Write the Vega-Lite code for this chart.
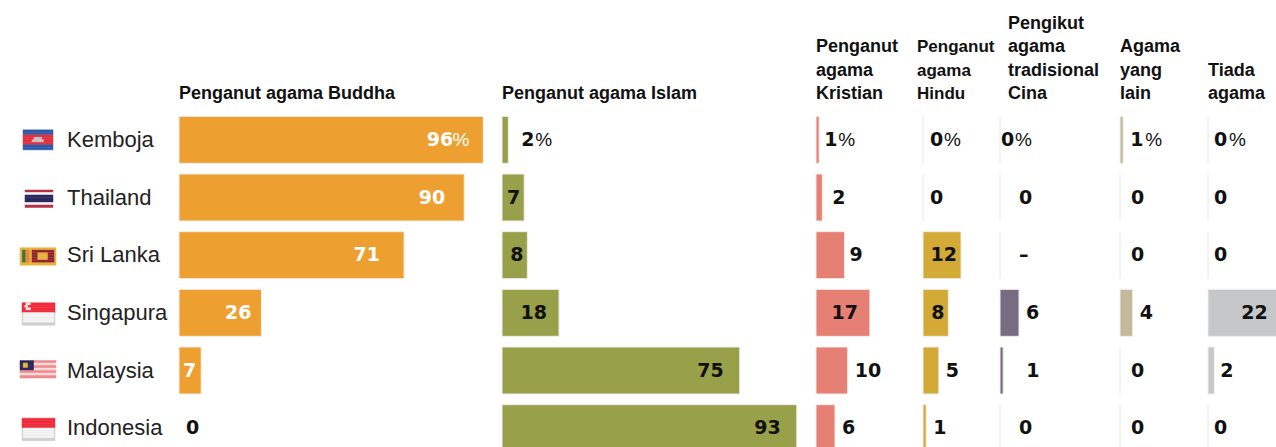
{"$schema":"https://vega.github.io/schema/vega-lite/v6.json","padding":{"left":0,"top":14,"right":0,"bottom":0},"background":"white","spacing":0,"bounds":"flush",
"config":{"view":{"stroke":null},"text":{"font":"DejaVu Sans","fontSize":19,"fontWeight":"bold","baseline":"middle","fill":"#111"},"title":{"font":"Liberation Sans","fontSize":18,"fontWeight":"bold","anchor":"start","frame":"group","lineHeight":23.5,"offset":8,"color":"#111"},"bar":{"stroke":"#f0eeeb","strokeWidth":1,"clip":true}},
"data":{"values":[
{"negara":"Kemboja","agama":"Buddha","nilai":96,"teks":"96","tempat":"a"},
{"negara":"Thailand","agama":"Buddha","nilai":90,"teks":"90","tempat":"b"},
{"negara":"Sri Lanka","agama":"Buddha","nilai":71,"teks":"71","tempat":"c"},
{"negara":"Singapura","agama":"Buddha","nilai":26,"teks":"26","tempat":"d"},
{"negara":"Malaysia","agama":"Buddha","nilai":7,"teks":"7","tempat":"e"},
{"negara":"Indonesia","agama":"Buddha","nilai":0,"teks":"0","tempat":"f"},
{"negara":"Kemboja","agama":"Islam","nilai":2,"teks":"2","tempat":"a"},
{"negara":"Thailand","agama":"Islam","nilai":7,"teks":"7","tempat":"b"},
{"negara":"Sri Lanka","agama":"Islam","nilai":8,"teks":"8","tempat":"b"},
{"negara":"Singapura","agama":"Islam","nilai":18,"teks":"18","tempat":"c"},
{"negara":"Malaysia","agama":"Islam","nilai":75,"teks":"75","tempat":"d"},
{"negara":"Indonesia","agama":"Islam","nilai":93,"teks":"93","tempat":"d"},
{"negara":"Kemboja","agama":"Kristian","nilai":1,"teks":"1","tempat":"a"},
{"negara":"Thailand","agama":"Kristian","nilai":2,"teks":"2","tempat":"b"},
{"negara":"Sri Lanka","agama":"Kristian","nilai":9,"teks":"9","tempat":"a"},
{"negara":"Singapura","agama":"Kristian","nilai":17,"teks":"17","tempat":"d"},
{"negara":"Malaysia","agama":"Kristian","nilai":10,"teks":"10","tempat":"c"},
{"negara":"Indonesia","agama":"Kristian","nilai":6,"teks":"6","tempat":"c"},
{"negara":"Kemboja","agama":"Hindu","nilai":0,"teks":"0","tempat":"a"},
{"negara":"Thailand","agama":"Hindu","nilai":0,"teks":"0","tempat":"a"},
{"negara":"Sri Lanka","agama":"Hindu","nilai":12,"teks":"12","tempat":"b"},
{"negara":"Singapura","agama":"Hindu","nilai":8,"teks":"8","tempat":"b"},
{"negara":"Malaysia","agama":"Hindu","nilai":5,"teks":"5","tempat":"a"},
{"negara":"Indonesia","agama":"Hindu","nilai":1,"teks":"1","tempat":"a"},
{"negara":"Kemboja","agama":"Cina","nilai":0,"teks":"0","tempat":"a"},
{"negara":"Thailand","agama":"Cina","nilai":0,"teks":"0","tempat":"b"},
{"negara":"Sri Lanka","agama":"Cina","nilai":0,"teks":"–","tempat":"b"},
{"negara":"Singapura","agama":"Cina","nilai":6,"teks":"6","tempat":"c"},
{"negara":"Malaysia","agama":"Cina","nilai":1,"teks":"1","tempat":"d"},
{"negara":"Indonesia","agama":"Cina","nilai":0,"teks":"0","tempat":"b"},
{"negara":"Kemboja","agama":"Lain","nilai":1,"teks":"1","tempat":"a"},
{"negara":"Thailand","agama":"Lain","nilai":0,"teks":"0","tempat":"b"},
{"negara":"Sri Lanka","agama":"Lain","nilai":0,"teks":"0","tempat":"b"},
{"negara":"Singapura","agama":"Lain","nilai":4,"teks":"4","tempat":"a"},
{"negara":"Malaysia","agama":"Lain","nilai":0,"teks":"0","tempat":"b"},
{"negara":"Indonesia","agama":"Lain","nilai":0,"teks":"0","tempat":"b"},
{"negara":"Kemboja","agama":"Tiada","nilai":0,"teks":"0","tempat":"a"},
{"negara":"Thailand","agama":"Tiada","nilai":0,"teks":"0","tempat":"a"},
{"negara":"Sri Lanka","agama":"Tiada","nilai":0,"teks":"0","tempat":"a"},
{"negara":"Singapura","agama":"Tiada","nilai":22,"teks":"22","tempat":"b"},
{"negara":"Malaysia","agama":"Tiada","nilai":2,"teks":"2","tempat":"a"},
{"negara":"Indonesia","agama":"Tiada","nilai":0,"teks":"0","tempat":"a"}
]},
"datasets":{"bendera":[
{"n":"Kemboja","b":1,"d":0.75,"h":8.25,"w":"biru"},{"n":"Kemboja","b":2,"d":0.75,"h":8.25,"w":"biru"},
{"n":"Kemboja","b":3,"d":0.75,"h":8.25,"w":"merah"},{"n":"Kemboja","b":4,"d":0.75,"h":3.5,"w":"merah"},{"n":"Kemboja","b":4,"d":3.5,"h":5.5,"w":"kelabu"},{"n":"Kemboja","b":4,"d":5.5,"h":8.25,"w":"merah"},{"n":"Kemboja","b":5,"d":0.75,"h":3,"w":"merah"},{"n":"Kemboja","b":5,"d":3,"h":6,"w":"kelabu"},{"n":"Kemboja","b":5,"d":6,"h":8.25,"w":"merah"},{"n":"Kemboja","b":6,"d":0.75,"h":8.25,"w":"merah"},
{"n":"Kemboja","b":7,"d":0.75,"h":8.25,"w":"biru"},{"n":"Kemboja","b":8,"d":0.75,"h":8.25,"w":"biru"},
{"n":"Thailand","b":2,"d":1.25,"h":8.25,"w":"merahtua"},{"n":"Thailand","b":3,"d":1.25,"h":8.25,"w":"putih"},{"n":"Thailand","b":4,"d":1.25,"h":8.25,"w":"nila"},{"n":"Thailand","b":5,"d":1.25,"h":8.25,"w":"nila"},{"n":"Thailand","b":6,"d":1.25,"h":8.25,"w":"nila"},{"n":"Thailand","b":7,"d":1.25,"h":8.25,"w":"putih"},{"n":"Thailand","b":8,"d":1.25,"h":8.25,"w":"merahtua"},
{"n":"Sri Lanka","b":2,"d":0,"h":9,"w":"emas"},
{"n":"Sri Lanka","b":3,"d":0,"h":9,"w":"emas"},{"n":"Sri Lanka","b":3,"d":0.6,"h":1.4,"w":"hijau"},{"n":"Sri Lanka","b":3,"d":1.4,"h":2.3,"w":"jingga"},{"n":"Sri Lanka","b":3,"d":3,"h":8.5,"w":"marun"},
{"n":"Sri Lanka","b":4,"d":0,"h":9,"w":"emas"},{"n":"Sri Lanka","b":4,"d":0.6,"h":1.4,"w":"hijau"},{"n":"Sri Lanka","b":4,"d":1.4,"h":2.3,"w":"jingga"},{"n":"Sri Lanka","b":4,"d":3,"h":4.3,"w":"marun"},{"n":"Sri Lanka","b":4,"d":7,"h":8.5,"w":"marun"},
{"n":"Sri Lanka","b":5,"d":0,"h":9,"w":"emas"},{"n":"Sri Lanka","b":5,"d":0.6,"h":1.4,"w":"hijau"},{"n":"Sri Lanka","b":5,"d":1.4,"h":2.3,"w":"jingga"},{"n":"Sri Lanka","b":5,"d":3,"h":4.3,"w":"marun"},{"n":"Sri Lanka","b":5,"d":7,"h":8.5,"w":"marun"},
{"n":"Sri Lanka","b":6,"d":0,"h":9,"w":"emas"},{"n":"Sri Lanka","b":6,"d":0.6,"h":1.4,"w":"hijau"},{"n":"Sri Lanka","b":6,"d":1.4,"h":2.3,"w":"jingga"},{"n":"Sri Lanka","b":6,"d":3,"h":4.3,"w":"marun"},{"n":"Sri Lanka","b":6,"d":7,"h":8.5,"w":"marun"},
{"n":"Sri Lanka","b":7,"d":0,"h":9,"w":"emas"},{"n":"Sri Lanka","b":7,"d":0.6,"h":1.4,"w":"hijau"},{"n":"Sri Lanka","b":7,"d":1.4,"h":2.3,"w":"jingga"},{"n":"Sri Lanka","b":7,"d":3,"h":8.5,"w":"marun"},
{"n":"Sri Lanka","b":8,"d":0,"h":9,"w":"emas"},
{"n":"Singapura","b":1,"d":0.5,"h":8.75,"w":"merah2"},{"n":"Singapura","b":1,"d":1.5,"h":2.6,"w":"putih"},{"n":"Singapura","b":2,"d":0.5,"h":8.75,"w":"merah2"},{"n":"Singapura","b":2,"d":1.2,"h":1.9,"w":"putih"},{"n":"Singapura","b":3,"d":0.5,"h":8.75,"w":"merah2"},{"n":"Singapura","b":3,"d":1.5,"h":2.6,"w":"putih"},{"n":"Singapura","b":4,"d":0.5,"h":8.75,"w":"merah2"},
{"n":"Singapura","b":5,"d":0.5,"h":8.75,"w":"tepi"},{"n":"Singapura","b":5,"d":0.8,"h":8.45,"w":"putih"},{"n":"Singapura","b":6,"d":0.5,"h":8.75,"w":"tepi"},{"n":"Singapura","b":6,"d":0.8,"h":8.45,"w":"putih"},{"n":"Singapura","b":7,"d":0.5,"h":8.75,"w":"tepi"},{"n":"Singapura","b":7,"d":0.8,"h":8.45,"w":"putih"},{"n":"Singapura","b":8,"d":0.5,"h":8.75,"w":"tepi"},{"n":"Singapura","b":8,"d":0.8,"h":8.45,"w":"putih"},{"n":"Singapura","b":9,"d":0.5,"h":8.75,"w":"tepi"},
{"n":"Malaysia","b":1,"d":0,"h":3.5,"w":"nila"},{"n":"Malaysia","b":1,"d":3.5,"h":9,"w":"merahjambu"},
{"n":"Malaysia","b":2,"d":0,"h":0.8,"w":"nila"},{"n":"Malaysia","b":2,"d":0.8,"h":2,"w":"emas"},{"n":"Malaysia","b":2,"d":2,"h":3.5,"w":"nila"},{"n":"Malaysia","b":2,"d":3.5,"h":9,"w":"jambumuda"},
{"n":"Malaysia","b":3,"d":0,"h":0.8,"w":"nila"},{"n":"Malaysia","b":3,"d":0.8,"h":2,"w":"emas"},{"n":"Malaysia","b":3,"d":2,"h":3.5,"w":"nila"},{"n":"Malaysia","b":3,"d":3.5,"h":9,"w":"merahjambu"},
{"n":"Malaysia","b":4,"d":0,"h":3.5,"w":"nila"},{"n":"Malaysia","b":4,"d":3.5,"h":9,"w":"jambumuda"},
{"n":"Malaysia","b":5,"d":0,"h":9,"w":"merahjambu"},{"n":"Malaysia","b":6,"d":0,"h":9,"w":"jambumuda"},{"n":"Malaysia","b":7,"d":0,"h":9,"w":"merahjambu"},
{"n":"Indonesia","b":1,"d":0.5,"h":8.75,"w":"merah2"},{"n":"Indonesia","b":2,"d":0.5,"h":8.75,"w":"merah2"},{"n":"Indonesia","b":3,"d":0.5,"h":8.75,"w":"merah2"},{"n":"Indonesia","b":4,"d":0.5,"h":8.75,"w":"merah2"},
{"n":"Indonesia","b":5,"d":0.5,"h":8.75,"w":"tepi"},{"n":"Indonesia","b":5,"d":0.8,"h":8.45,"w":"putih"},{"n":"Indonesia","b":6,"d":0.5,"h":8.75,"w":"tepi"},{"n":"Indonesia","b":6,"d":0.8,"h":8.45,"w":"putih"},{"n":"Indonesia","b":7,"d":0.5,"h":8.75,"w":"tepi"},{"n":"Indonesia","b":7,"d":0.8,"h":8.45,"w":"putih"},{"n":"Indonesia","b":8,"d":0.5,"h":8.75,"w":"tepi"},{"n":"Indonesia","b":8,"d":0.8,"h":8.45,"w":"putih"},{"n":"Indonesia","b":9,"d":0.5,"h":8.75,"w":"tepi"}
],
"negara":[{"n":"Kemboja"},{"n":"Thailand"},{"n":"Sri Lanka"},{"n":"Singapura"},{"n":"Malaysia"},{"n":"Indonesia"}]},
"hconcat":[
{"width":60,"height":339,"data":{"name":"bendera"},"mark":{"type":"bar","clip":false,"strokeWidth":0.5},
 "encoding":{"x":{"field":"d","type":"quantitative","axis":null,"scale":{"domain":[-5,10],"nice":false,"zero":false}},"x2":{"field":"h"},
 "y":{"field":"n","type":"nominal","axis":null,"scale":{"type":"band","domain":["Kemboja","Thailand","Sri Lanka","Singapura","Malaysia","Indonesia"],"range":[0,346],"padding":0}},
 "yOffset":{"field":"b","type":"ordinal","scale":{"domain":[-6,-5,-4,-3,-2,-1,0,1,2,3,4,5,6,7,8,9,10,11,12,13,14,15],"paddingInner":0,"paddingOuter":0.53}},
 "color":{"field":"w","type":"nominal","legend":null,"scale":{"domain":["biru","merah","kelabu","merahtua","putih","nila","emas","hijau","jingga","marun","merah2","tepi","merahjambu","jambumuda"],"range":["#2F5AA8","#E0303F","#C9C5C5","#B5324A","#F6F6F6","#2B2A5E","#E9B23A","#1F6F52","#E8853A","#8F1F3A","#EE2A3B","#CFCFCF","#EE8A8A","#F8DADA"]}},
 "stroke":{"field":"w","type":"nominal","legend":null,"scale":{"domain":["biru","merah","kelabu","merahtua","putih","nila","emas","hijau","jingga","marun","merah2","tepi","merahjambu","jambumuda"],"range":["#2F5AA8","#E0303F","#C9C5C5","#B5324A","#F6F6F6","#2B2A5E","#E9B23A","#1F6F52","#E8853A","#8F1F3A","#EE2A3B","#CFCFCF","#EE8A8A","#F8DADA"]}}}},
{"width":119,"height":339,"data":{"name":"negara"},"mark":{"type":"text","align":"left","dx":7,"font":"Liberation Sans","fontSize":22,"fontWeight":"normal","fill":"#222"},
 "encoding":{"x":{"datum":0,"type":"quantitative","axis":null,"scale":{"domain":[0,119],"nice":false}},
 "y":{"field":"n","type":"nominal","axis":null,"scale":{"type":"band","domain":["Kemboja","Thailand","Sri Lanka","Singapura","Malaysia","Indonesia"],"range":[0,346],"padding":0}},"text":{"field":"n"}}},
{"width":323,"height":339,"title":{"text":["Penganut agama Buddha"]},"transform":[{"filter":"datum.agama=='Buddha'"}],
 "encoding":{"x":{"field":"nilai","type":"quantitative","axis":null,"scale":{"domain":[0,101.9],"nice":false}},
 "y":{"field":"negara","type":"nominal","axis":null,"scale":{"type":"band","domain":["Kemboja","Thailand","Sri Lanka","Singapura","Malaysia","Indonesia"],"range":[0,346],"padding":0}},"text":{"field":"teks"}},
 "layer":[
 {"transform":[{"filter":"datum.nilai>0"}],"mark":{"type":"bar","size":47,"fill":"#EDA02F"}},
 {"transform":[{"filter":"datum.tempat=='a'"}],"mark":{"type":"text","align":"right","dx":-30,"fill":"#fff"}},
 {"transform":[{"filter":"datum.tempat=='a'"}],"mark":{"type":"text","align":"right","dx":-14,"fill":"#fff","font":"Liberation Sans","fontWeight":"normal","fontSize":19},"encoding":{"text":{"value":"%"}}},
 {"transform":[{"filter":"datum.tempat=='b'"}],"mark":{"type":"text","align":"right","dx":-19,"fill":"#fff"}},
 {"transform":[{"filter":"datum.tempat=='c'"}],"mark":{"type":"text","align":"right","dx":-24,"fill":"#fff"}},
 {"transform":[{"filter":"datum.tempat=='d'"}],"mark":{"type":"text","align":"right","dx":-10,"fill":"#fff"}},
 {"transform":[{"filter":"datum.tempat=='e'"}],"mark":{"type":"text","align":"right","dx":-5,"fill":"#fff"}},
 {"transform":[{"filter":"datum.tempat=='f'"}],"mark":{"type":"text","align":"left","dx":7}}
 ]},
{"width":314,"height":339,"title":{"text":["Penganut agama Islam"]},"transform":[{"filter":"datum.agama=='Islam'"}],
 "encoding":{"x":{"field":"nilai","type":"quantitative","axis":null,"scale":{"domain":[0,99.05],"nice":false}},
 "y":{"field":"negara","type":"nominal","axis":null,"scale":{"type":"band","domain":["Kemboja","Thailand","Sri Lanka","Singapura","Malaysia","Indonesia"],"range":[0,346],"padding":0}},"text":{"field":"teks"}},
 "layer":[
 {"mark":{"type":"bar","size":47,"fill":"#98A04A"}},
 {"transform":[{"filter":"datum.tempat=='a'"}],"mark":{"type":"text","align":"left","dx":13}},
 {"transform":[{"filter":"datum.tempat=='a'"}],"mark":{"type":"text","align":"left","dx":27,"font":"Liberation Sans","fontWeight":"normal","fontSize":19},"encoding":{"text":{"value":"%"}}},
 {"transform":[{"filter":"datum.tempat=='b'"}],"mark":{"type":"text","align":"right","dx":-4}},
 {"transform":[{"filter":"datum.tempat=='c'"}],"mark":{"type":"text","align":"right","dx":-12}},
 {"transform":[{"filter":"datum.tempat=='d'"}],"mark":{"type":"text","align":"right","dx":-16}}
 ]},
{"width":107,"height":339,"title":{"text":["Penganut","agama","Kristian"]},"transform":[{"filter":"datum.agama=='Kristian'"}],
 "encoding":{"x":{"field":"nilai","type":"quantitative","axis":null,"scale":{"domain":[0,33.75],"nice":false}},
 "y":{"field":"negara","type":"nominal","axis":null,"scale":{"type":"band","domain":["Kemboja","Thailand","Sri Lanka","Singapura","Malaysia","Indonesia"],"range":[0,346],"padding":0}},"text":{"field":"teks"}},
 "layer":[
 {"mark":{"type":"bar","size":47,"fill":"#E67F74"}},
 {"transform":[{"filter":"datum.tempat=='a'"}],"mark":{"type":"text","align":"left","dx":5}},
 {"transform":[{"filter":"datum.negara=='Kemboja'"}],"mark":{"type":"text","align":"left","dx":19,"font":"Liberation Sans","fontWeight":"normal","fontSize":19},"encoding":{"text":{"value":"%"}}},
 {"transform":[{"filter":"datum.tempat=='b'"}],"mark":{"type":"text","align":"left","dx":10}},
 {"transform":[{"filter":"datum.tempat=='c'"}],"mark":{"type":"text","align":"left","dx":7}},
 {"transform":[{"filter":"datum.tempat=='d'"}],"mark":{"type":"text","align":"right","dx":-12}}
 ]},
{"width":77,"height":339,"title":{"text":["Penganut","agama","Hindu"],"dx":-6,"fontSize":17},"transform":[{"filter":"datum.agama=='Hindu'"}],
 "encoding":{"x":{"field":"nilai","type":"quantitative","axis":null,"scale":{"domain":[0,24.29],"nice":false}},
 "y":{"field":"negara","type":"nominal","axis":null,"scale":{"type":"band","domain":["Kemboja","Thailand","Sri Lanka","Singapura","Malaysia","Indonesia"],"range":[0,346],"padding":0}},"text":{"field":"teks"}},
 "layer":[
 {"mark":{"type":"bar","size":47,"fill":"#D2AA35"}},
 {"transform":[{"filter":"datum.tempat=='a'"}],"mark":{"type":"text","align":"left","dx":7}},
 {"transform":[{"filter":"datum.negara=='Kemboja'"}],"mark":{"type":"text","align":"left","dx":21,"font":"Liberation Sans","fontWeight":"normal","fontSize":19},"encoding":{"text":{"value":"%"}}},
 {"transform":[{"filter":"datum.tempat=='b'"}],"mark":{"type":"text","align":"right","dx":-4}}
 ]},
{"width":120,"height":339,"title":{"text":["Pengikut","agama","tradisional","Cina"],"dx":8},"transform":[{"filter":"datum.agama=='Cina'"}],
 "encoding":{"x":{"field":"nilai","type":"quantitative","axis":null,"scale":{"domain":[0,37.85],"nice":false}},
 "y":{"field":"negara","type":"nominal","axis":null,"scale":{"type":"band","domain":["Kemboja","Thailand","Sri Lanka","Singapura","Malaysia","Indonesia"],"range":[0,346],"padding":0}},"text":{"field":"teks"}},
 "layer":[
 {"mark":{"type":"bar","size":47,"fill":"#776D82"}},
 {"transform":[{"filter":"datum.tempat=='a'"}],"mark":{"type":"text","align":"left","dx":1}},
 {"transform":[{"filter":"datum.tempat=='a'"}],"mark":{"type":"text","align":"left","dx":15,"font":"Liberation Sans","fontWeight":"normal","fontSize":19},"encoding":{"text":{"value":"%"}}},
 {"transform":[{"filter":"datum.tempat=='b'"}],"mark":{"type":"text","align":"left","dx":19}},
 {"transform":[{"filter":"datum.tempat=='c'"}],"mark":{"type":"text","align":"left","dx":7}},
 {"transform":[{"filter":"datum.tempat=='d'"}],"mark":{"type":"text","align":"left","dx":23}}
 ]},
{"width":88,"height":339,"title":{"text":["Agama","yang","lain"]},"transform":[{"filter":"datum.agama=='Lain'"}],
 "encoding":{"x":{"field":"nilai","type":"quantitative","axis":null,"scale":{"domain":[0,27.76],"nice":false}},
 "y":{"field":"negara","type":"nominal","axis":null,"scale":{"type":"band","domain":["Kemboja","Thailand","Sri Lanka","Singapura","Malaysia","Indonesia"],"range":[0,346],"padding":0}},"text":{"field":"teks"}},
 "layer":[
 {"mark":{"type":"bar","size":47,"fill":"#C3BA9B"}},
 {"transform":[{"filter":"datum.tempat=='a'"}],"mark":{"type":"text","align":"left","dx":7}},
 {"transform":[{"filter":"datum.negara=='Kemboja'"}],"mark":{"type":"text","align":"left","dx":22,"font":"Liberation Sans","fontWeight":"normal","fontSize":19},"encoding":{"text":{"value":"%"}}},
 {"transform":[{"filter":"datum.tempat=='b'"}],"mark":{"type":"text","align":"left","dx":11}}
 ]},
{"width":68,"height":339,"title":{"text":["Tiada","agama"]},"transform":[{"filter":"datum.agama=='Tiada'"}],
 "encoding":{"x":{"field":"nilai","type":"quantitative","axis":null,"scale":{"domain":[0,21.45],"nice":false}},
 "y":{"field":"negara","type":"nominal","axis":null,"scale":{"type":"band","domain":["Kemboja","Thailand","Sri Lanka","Singapura","Malaysia","Indonesia"],"range":[0,346],"padding":0}},"text":{"field":"teks"}},
 "layer":[
 {"mark":{"type":"bar","size":47,"fill":"#C6C7C9"}},
 {"transform":[{"filter":"datum.tempat=='a'"}],"mark":{"type":"text","align":"left","dx":6}},
 {"transform":[{"filter":"datum.negara=='Kemboja'"}],"mark":{"type":"text","align":"left","dx":21,"font":"Liberation Sans","fontWeight":"normal","fontSize":19},"encoding":{"text":{"value":"%"}}},
 {"transform":[{"filter":"datum.tempat=='b'"}],"mark":{"type":"text","align":"right","dx":-10}}
 ]}
]}
